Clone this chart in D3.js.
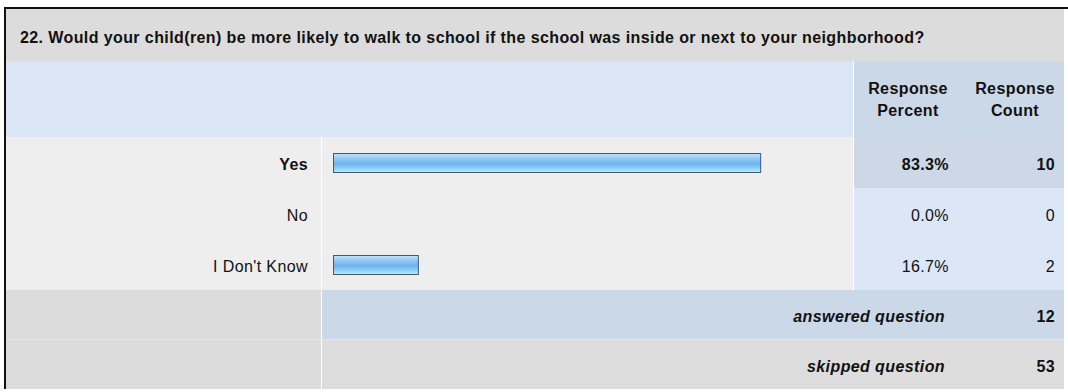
<!DOCTYPE html>
<html>
<head>
<meta charset="utf-8">
<script src="https://cdn.jsdelivr.net/npm/d3@7"></script>
<style>
  html, body { margin: 0; padding: 0; background: #ffffff; }
  svg { display: block; font-family: Arial, "Liberation Sans", Helvetica, sans-serif; }
  svg text { font-size: 16px; letter-spacing: 0.4px; fill: #111; }
</style>
</head>
<body>
<svg id="chart" width="1068" height="392"></svg>
<script>
// Survey question and answers
const question = "22. Would your child(ren) be more likely to walk to school if the school was inside or next to your neighborhood?";
const answerChoices = ["Yes", "No", "I Don't Know"];
const responsePercent = [83.3, 0.0, 16.7];
const responseCount = [10, 0, 2];
const headerLabels = [["Response", "Percent"], ["Response", "Count"]];
const summaryLabels = ["answered question", "skipped question"];
const summaryCounts = [12, 53];

const svg = d3.select("#chart");

// Table layout
const left = 5, right = 1064;
const labelColEnd = 321;   // end of the answer-label column
const barColEnd = 853;     // end of the bar column
const titleTop = 9, titleH = 52;
const headerH = 76;
const rowH = 51;
const headerTop = titleTop + titleH;
const bodyTop = headerTop + headerH;
const summaryTop = bodyTop + rowH * answerChoices.length;
const tableBottom = 389;

const x = d3.scaleLinear().domain([0, 100]).range([0, 514]);
const y = d3.scaleBand().domain(answerChoices).range([bodyTop, summaryTop]);
const ys = d3.scaleBand().domain(summaryLabels).range([summaryTop, tableBottom]);

// Glossy bar gradient
const defs = svg.append("defs");
const grad = defs.append("linearGradient").attr("id", "barFill")
  .attr("x1", 0).attr("y1", 0).attr("x2", 0).attr("y2", 1);
[["0%", "#c4e3fb"], ["30%", "#8cc6f4"], ["55%", "#6fb2ef"], ["80%", "#93d3f8"], ["100%", "#b2effe"]]
  .forEach(([o, c]) => grad.append("stop").attr("offset", o).attr("stop-color", c));

// Title band
svg.append("rect").attr("x", left).attr("y", titleTop).attr("width", right - left).attr("height", titleH).attr("fill", "#dcdcdc");
svg.append("text").attr("x", 20).attr("y", 43)
  .attr("font-weight", "bold")
  .text(question);

// Header band
svg.append("rect").attr("x", left).attr("y", headerTop).attr("width", barColEnd - left).attr("height", headerH).attr("fill", "#dae6f5");
svg.append("rect").attr("x", barColEnd).attr("y", headerTop).attr("width", right - barColEnd).attr("height", headerH).attr("fill", "#cbd8e7");
const headerCenters = [908, 1015];
headerLabels.forEach((lines, i) => {
  lines.forEach((t, j) => {
    svg.append("text").attr("x", headerCenters[i]).attr("y", 94 + j * 22)
      .attr("text-anchor", "middle").attr("font-weight", "bold")
      .text(t);
  });
});

// Answer rows
const rows = svg.append("g").selectAll("g").data(answerChoices).join("g");
rows.append("rect").attr("x", left).attr("y", d => y(d)).attr("width", barColEnd - left).attr("height", y.bandwidth()).attr("fill", "#eeeeee");
rows.append("rect").attr("x", barColEnd).attr("y", d => y(d)).attr("width", right - barColEnd).attr("height", y.bandwidth())
  .attr("fill", (d, i) => i === 0 ? "#ccd8e6" : "#dbe7f6");

rows.append("text").attr("x", 308).attr("y", d => y(d) + 33)
  .attr("text-anchor", "end")
  .attr("font-weight", (d, i) => i === 0 ? "bold" : "normal")
  .text(d => d);

rows.filter((d, i) => responsePercent[i] > 0)
  .append("rect")
  .attr("x", 333.5).attr("y", d => y(d) + 16.5)
  .attr("width", d => x(responsePercent[answerChoices.indexOf(d)]) - 1)
  .attr("height", 19)
  .attr("fill", "url(#barFill)").attr("stroke", "#46586c").attr("stroke-width", 1);

rows.append("text").attr("x", 949).attr("y", d => y(d) + 33)
  .attr("text-anchor", "end")
  .attr("font-weight", (d, i) => i === 0 ? "bold" : "normal")
  .text((d, i) => responsePercent[i].toFixed(1) + "%");

rows.append("text").attr("x", 1055).attr("y", d => y(d) + 33)
  .attr("text-anchor", "end")
  .attr("font-weight", (d, i) => i === 0 ? "bold" : "normal")
  .text((d, i) => responseCount[i]);

// Summary rows
const sums = svg.append("g").selectAll("g").data(summaryLabels).join("g");
sums.append("rect").attr("x", left).attr("y", d => ys(d)).attr("width", labelColEnd - left).attr("height", ys.bandwidth()).attr("fill", "#dcdcdc");
sums.append("rect").attr("x", labelColEnd).attr("y", d => ys(d)).attr("width", right - labelColEnd).attr("height", ys.bandwidth())
  .attr("fill", (d, i) => i === 0 ? "#cad8e8" : "#dddddd");
sums.append("text").attr("x", 945).attr("y", d => ys(d) + 32)
  .attr("text-anchor", "end").attr("font-weight", "bold").attr("font-style", "italic")
  .text(d => d);
sums.append("text").attr("x", 1055).attr("y", d => ys(d) + 32)
  .attr("text-anchor", "end").attr("font-weight", "bold")
  .text((d, i) => summaryCounts[i]);

// Column dividers
svg.append("line").attr("x1", labelColEnd + 0.5).attr("x2", labelColEnd + 0.5).attr("y1", bodyTop).attr("y2", tableBottom)
  .attr("stroke", "#ffffff").attr("stroke-width", 1);
svg.append("line").attr("x1", barColEnd + 0.5).attr("x2", barColEnd + 0.5).attr("y1", headerTop).attr("y2", summaryTop)
  .attr("stroke", "#ffffff").attr("stroke-width", 1);

// Frame: heavy top and left edges
svg.append("line").attr("x1", 4).attr("x2", 1068).attr("y1", 8).attr("y2", 8).attr("stroke", "#111").attr("stroke-width", 2);
svg.append("line").attr("x1", 5).attr("x2", 5).attr("y1", 7).attr("y2", tableBottom).attr("stroke", "#111").attr("stroke-width", 2);
</script>
</body>
</html>
